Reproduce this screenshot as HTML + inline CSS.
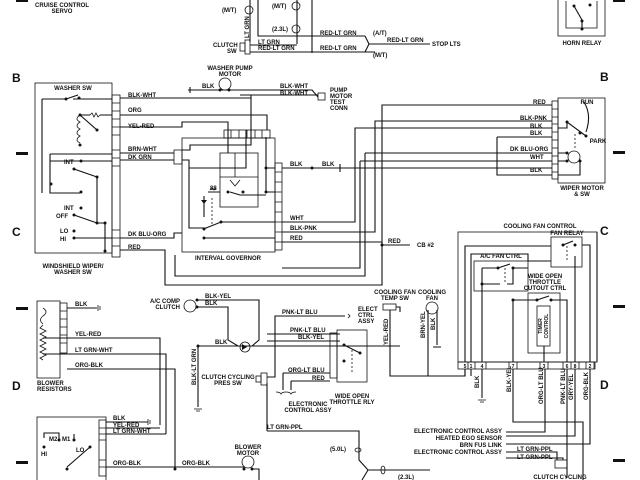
<!DOCTYPE html>
<html><head><style>
html,body{margin:0;padding:0;background:#fff}
svg{display:block}
text{font-family:"Liberation Sans",sans-serif;font-weight:bold;font-size:6px;fill:#111}
.l{stroke:#111;stroke-width:1.1;fill:none}
.t{stroke:#111;stroke-width:0.8;fill:none}
.d{fill:#111}
.m{text-anchor:middle}
.big{font-size:12px}
</style></head><body>
<svg width="640" height="480" viewBox="0 0 640 480" xmlns="http://www.w3.org/2000/svg">
<rect width="640" height="480" fill="#fff"/>
<!-- grid markers -->
<text x="12" y="82" class="big">B</text><text x="600" y="81" class="big">B</text>
<text x="12" y="236" class="big">C</text><text x="600" y="235" class="big">C</text>
<text x="12" y="390" class="big">D</text><text x="600" y="389" class="big">D</text>
<rect x="16" y="152" width="12" height="3" class="d"/><rect x="613" y="151" width="12" height="3" class="d"/>
<rect x="16" y="307" width="12" height="3" class="d"/><rect x="613" y="305" width="12" height="3" class="d"/>
<rect x="16" y="461" width="12" height="3" class="d"/><rect x="613" y="459" width="12" height="3" class="d"/>
<rect x="16" y="0" width="12" height="2" class="d"/><rect x="613" y="0" width="12" height="2" class="d"/>

<!-- top area -->
<text x="62" y="7" class="m">CRUISE CONTROL</text><text x="62" y="13" class="m">SERVO</text>
<text x="222" y="12">(M/T)</text><circle cx="249" cy="10" r="4" class="t"/>
<text x="272" y="8">(M/T)</text><circle cx="296" cy="6" r="4" class="t"/>
<text x="272" y="31">(2.3L)</text><circle cx="296" cy="29" r="4" class="t"/>
<path class="l" d="M250 0V42M258 0V36H312M297 0V44M312 0V53M250 45H297M250 52H375"/>
<rect x="245" y="40" width="5" height="14" class="t"/><rect x="240" y="43" width="5" height="8" class="t"/>
<text x="213" y="47">CLUTCH</text><text x="227" y="53">SW</text>
<text x="258" y="44">LT GRN</text><text x="258" y="50">RED-LT GRN</text>
<text transform="translate(249,38) rotate(-90)">LT GRN</text>
<text x="320" y="35">RED-LT GRN</text><text x="320" y="50">RED-LT GRN</text>
<path class="l" d="M312 36H365M320 52H365M365 36L369 44L365 52M369 44H430"/>
<text x="373" y="35">(A/T)</text><text x="373" y="57">(M/T)</text>
<text x="387" y="42">RED-LT GRN</text><text x="432" y="46">STOP LTS</text>
<rect x="558" y="-2" width="47" height="38" class="t"/>
<path class="t" d="M566 1V28H597V1"/><circle cx="574" cy="6" r="1.5" class="d"/><circle cx="590" cy="5" r="1.5" class="d"/>
<path class="l" d="M574 6L582 20V28"/><circle cx="582" cy="21" r="1.5" class="d"/><circle cx="582" cy="29" r="1.5" class="d"/>
<text x="582" y="45" class="m">HORN RELAY</text>

<!-- wiper/washer switch -->
<rect x="35" y="83" width="77" height="170" class="t"/>
<text x="73" y="90" class="m">WASHER SW</text>
<text x="73" y="268" class="m">WINDSHIELD WIPER/</text><text x="73" y="274" class="m">WASHER SW</text>
<rect x="112" y="95" width="8" height="162" class="t"/>
<path class="t" d="M112 103H120M112 111H120M112 119H120M112 127H120M112 135H120M112 150H120M112 158H120M112 166H120M112 230H120M112 238H120M112 246H120"/>
<path class="l" d="M42 99V193M42 99H66M73 99H112M80 115L97 130M80 115H90M100 115H112M50 154V193H80M50 154H112M50 161H112"/>
<circle cx="66" cy="99" r="1.5" class="d"/><circle cx="79" cy="98" r="1.5" class="d"/><path class="l" d="M66 99L78 95"/>
<path class="t" d="M90 115l2-2 2 4 2-4 2 4 2-2"/>
<circle cx="80" cy="115" r="1.5" class="d"/><circle cx="97" cy="130" r="1.5" class="d"/><circle cx="80" cy="145" r="1.5" class="d"/>
<path class="t" d="M80 115q-6 4 0 7q-6 4 0 7q-6 4 0 7q-6 4 0 7"/>
<text x="64" y="164">INT</text><circle cx="81" cy="161" r="1.5" class="d"/>
<circle cx="74" cy="169" r="1.5" class="d"/><path class="l" d="M74 169L97 177"/><circle cx="97" cy="177" r="1.5" class="d"/>
<circle cx="51" cy="184" r="1.5" class="d"/><circle cx="81" cy="192" r="1.5" class="d"/>
<text x="64" y="210">INT</text><circle cx="81" cy="208" r="1.5" class="d"/>
<text x="56" y="218">OFF</text><circle cx="74" cy="215" r="1.5" class="d"/><path class="l" d="M74 215L97 223H105"/><circle cx="97" cy="223" r="1.5" class="d"/><circle cx="105" cy="223" r="1.5" class="d"/>
<text x="60" y="233">LO</text><circle cx="74" cy="231" r="1.5" class="d"/>
<text x="60" y="241">HI</text><circle cx="74" cy="238" r="1.5" class="d"/>
<path class="l" d="M74 238H112M105 223V252M97 177V223"/>
<circle cx="105" cy="251" r="1.5" class="d"/>

<!-- washer pump -->
<text x="230" y="70" class="m">WASHER PUMP</text><text x="230" y="76" class="m">MOTOR</text>
<circle cx="225" cy="84" r="6" class="t"/>
<path class="l" d="M188 90H229M190 87V93"/><circle cx="220" cy="90" r="1.5" class="d"/><circle cx="229" cy="90" r="1.5" class="d"/>
<text x="202" y="88">BLK</text>
<path class="l" d="M229 90H312L318 97M240 95H318M251 130V95"/>
<rect x="318" y="93" width="7" height="7" class="t"/>
<text x="280" y="88">BLK-WHT</text><text x="280" y="95">BLK-WHT</text>
<text x="330" y="92">PUMP</text><text x="330" y="98">MOTOR</text><text x="330" y="104">TEST</text><text x="330" y="110">CONN</text>
<path class="l" d="M120 98H251M120 115H267V130M120 127H182V122H228V130M120 153H174M120 160H174"/>
<text x="128" y="97">BLK-WHT</text><text x="128" y="112">ORG</text><text x="128" y="128">YEL-RED</text>
<text x="128" y="151">BRN-WHT</text><text x="128" y="159">DK GRN</text>

<!-- interval governor -->
<rect x="182" y="138" width="93" height="114" class="t"/>
<rect x="224" y="130" width="46" height="8" class="t"/>
<path class="t" d="M231 130V138M239 130V138M247 130V138M255 130V138M262 130V138"/>
<rect x="174" y="150" width="8" height="14" class="t"/>
<rect x="275" y="163" width="7" height="87" class="t"/>
<path class="t" d="M275 172H282M275 182H282M275 192H282M275 202H282M275 212H282M275 222H282M275 232H282M275 242H282"/>
<rect x="220" y="153" width="38" height="54" class="t"/>
<path class="t" d="M235 153V177M220 177H258M230 180L235 186L240 180"/>
<path class="l" d="M182 150H190V145H251V130M182 160H189V168H246V130M228 130V153M266 137V168M189 168V228H207"/>
<circle cx="228" cy="192" r="1.5" class="d"/><circle cx="243" cy="192" r="1.5" class="d"/><path class="l" d="M230 192L240 195H266"/>
<circle cx="266" cy="168" r="1.5" class="d"/><circle cx="266" cy="192" r="1.5" class="d"/>
<path class="l" d="M266 168H275M266 192H275M266 168V192M208 192H220"/>
<path class="t" d="M210 190l2-2 2 2 2-2" /><text x="210" y="190">88</text>
<path class="l" d="M204 196V217"/><path class="d" d="M201 200h6l-3 4z"/>
<path class="t" d="M212 198V225" stroke-dasharray="2 2"/>
<circle cx="204" cy="229" r="1.5" class="d"/><circle cx="221" cy="222" r="1.5" class="d"/><path class="l" d="M206 228L221 222H275M204 238H275"/>
<circle cx="204" cy="238" r="1.5" class="d"/>
<text x="228" y="260" class="m">INTERVAL GOVERNOR</text>

<!-- wires to wiper motor -->
<path class="l" d="M282 168H552M282 222H355V128H552M282 232H375V121H552M282 242H382V105H552M120 238H174V233H182M120 250H165V285H382V242M365 153H552M360 161H552M365 153V276H175V255M360 161V268H282M497 137H552M497 137V175H552"/>
<circle cx="312" cy="168" r="1.5" class="d"/><path class="l" d="M340 164V172"/>
<text x="290" y="166">BLK</text><text x="322" y="166">BLK</text>
<text x="290" y="220">WHT</text><text x="290" y="230">BLK-PNK</text><text x="290" y="240">RED</text>
<text x="128" y="236">DK BLU-ORG</text><text x="128" y="249">RED</text>

<!-- wiper motor -->
<rect x="558" y="98" width="47" height="85" class="t"/>
<rect x="552" y="101" width="6" height="78" class="t"/>
<path class="t" d="M552 109H558M552 117H558M552 124H558M552 132H558M552 140H558M552 148H558M552 156H558M552 164H558M552 172H558"/>
<text x="533" y="104">RED</text><text x="520" y="120">BLK-PNK</text><text x="530" y="128">BLK</text><text x="530" y="135">BLK</text>
<text x="510" y="151">DK BLU-ORG</text><text x="530" y="159">WHT</text><text x="530" y="172">BLK</text>
<path class="l" d="M584 102Q592 115 586 132"/>
<text x="587" y="104" class="m">RUN</text><text x="598" y="143" class="m">PARK</text>
<circle cx="567" cy="122" r="1.5" class="d"/><circle cx="580" cy="133" r="1.5" class="d"/><circle cx="586" cy="136" r="1.5" class="d"/>
<path class="l" d="M567 122L586 136M558 128H567V122"/>
<path class="t" d="M575 134V150" stroke-dasharray="2 2"/>
<circle cx="574" cy="157" r="6" class="t"/>
<circle cx="567" cy="153" r="1.5" class="d"/><circle cx="567" cy="161" r="1.5" class="d"/><circle cx="580" cy="161" r="1.5" class="d"/>
<path class="l" d="M558 153H567M558 161H567M580 161V175H558"/>
<text x="582" y="190" class="m">WIPER MOTOR</text><text x="582" y="196" class="m">&amp; SW</text>

<!-- CB#2 -->
<path class="l" d="M382 245H410"/><circle cx="382" cy="245" r="1.5" class="d"/><text x="388" y="243">RED</text>
<text x="417" y="247">CB #2</text>

<!-- cooling fan control -->
<text x="540" y="228" class="m">COOLING FAN CONTROL</text>
<rect x="458" y="232" width="139" height="130" class="t"/>
<text x="567" y="235" class="m">FAN RELAY</text>
<rect x="551" y="237" width="31" height="30" class="t"/>
<circle cx="563" cy="245" r="1.5" class="d"/><circle cx="575" cy="245" r="1.5" class="d"/><path class="l" d="M563 245L573 241"/>
<path class="t" d="M567 246V261" stroke-dasharray="2 2"/>
<path class="l" d="M465 362V246H551M471 362V254H528V261H551M590 362V245H582M597 362V232"/>
<rect x="474" y="261" width="54" height="30" class="t"/>
<text x="501" y="258" class="m">A/C FAN CTRL</text>
<circle cx="498" cy="268" r="1.5" class="d"/><circle cx="513" cy="268" r="1.5" class="d"/><path class="l" d="M498 268L510 264M482 268H498M513 268H528M482 268V362"/>
<path class="t" d="M505 268V283" stroke-dasharray="2 2"/>
<circle cx="482" cy="284" r="1.5" class="d"/><path class="l" d="M482 284H500M507 284H513V268"/>
<text x="545" y="278" class="m">WIDE OPEN</text><text x="545" y="284" class="m">THROTTLE</text><text x="545" y="290" class="m">CUTOUT CTRL</text>
<rect x="528" y="293" width="32" height="60" class="t"/>
<circle cx="513" cy="300" r="1.5" class="d"/><circle cx="537" cy="300" r="1.5" class="d"/><circle cx="551" cy="300" r="1.5" class="d"/>
<path class="l" d="M513 300H537L549 296M551 300H567V362M513 300V362"/>
<rect x="537" y="306" width="13" height="40" class="t"/>
<text transform="translate(542,326) rotate(-90)" class="m" style="font-size:5px">TIMER</text>
<text transform="translate(548,326) rotate(-90)" class="m" style="font-size:5px">CONTROL</text>
<path class="l" d="M544 346V362M575 362V256"/>
<rect x="458" y="362" width="137" height="7" class="t"/>
<text x="465" y="368" class="m" style="font-size:5px">5</text><text x="471" y="368" class="m" style="font-size:5px">1</text><text x="482" y="368" class="m" style="font-size:5px">4</text><text x="513" y="368" class="m" style="font-size:5px">7</text><text x="544" y="368" class="m" style="font-size:5px">3</text><text x="567" y="368" class="m" style="font-size:5px">6</text><text x="575" y="368" class="m" style="font-size:5px">8</text><text x="590" y="368" class="m" style="font-size:5px">2</text>
<path class="t" d="M468 362V369M475 362V369M486 362V369M509 362V369M517 362V369M540 362V369M548 362V369M563 362V369M571 362V369M579 362V369M586 362V369M594 362V369"/>
<path class="l" d="M482 369V398M513 369V422H583V480M545 369V432H506M567 369V478M575 369V436H506M590 369V444H506M471 369V376M465 369V376"/>
<path class="t" d="M478 400H486M480 402H484"/>
<text transform="translate(479,388) rotate(-90)">BLK</text>
<text transform="translate(511,392) rotate(-90)">BLK-YEL</text>
<text transform="translate(543,404) rotate(-90)">ORG-LT BLU</text>
<text transform="translate(565,404) rotate(-90)">PNK-LT BLU</text>
<text transform="translate(573,400) rotate(-90)">GRY-YEL</text>
<text transform="translate(588,400) rotate(-90)">ORG-BLK</text>
<text x="502" y="433" style="text-anchor:end">ELECTRONIC CONTROL ASSY</text>
<text x="502" y="440" style="text-anchor:end">HEATED EGO SENSOR</text>
<text x="502" y="447" style="text-anchor:end">BRN FUS LINK</text>
<text x="502" y="454" style="text-anchor:end">ELECTRONIC CONTROL ASSY</text>
<path class="l" d="M506 452H557V460M506 458H563V460"/>
<text x="517" y="451">LT GRN-PPL</text><text x="517" y="459">LT GRN-PPL</text>
<rect x="555" y="460" width="12" height="8" class="t"/>
<text x="560" y="479" class="m">CLUTCH CYCLING</text>

<!-- cooling fan temp sw / fan -->
<text x="395" y="294" class="m">COOLING FAN</text><text x="395" y="300" class="m">TEMP SW</text>
<rect x="383" y="304" width="13" height="6" class="t"/><path class="l" d="M390 310V376H465V369M396 307H400V312"/>
<text transform="translate(388,345) rotate(-90)">YEL-RED</text>
<text x="432" y="294" class="m">COOLING</text><text x="432" y="300" class="m">FAN</text>
<circle cx="432" cy="308" r="6" class="t"/>
<path class="l" d="M428 310V376M437 310V345M433 347H441"/>
<text transform="translate(425,338) rotate(-90)">BRN-YEL</text>
<text transform="translate(435,330) rotate(-90)">BLK</text>

<!-- A/C comp clutch -->
<text x="180" y="303" style="text-anchor:end">A/C COMP</text><text x="180" y="309" style="text-anchor:end">CLUTCH</text>
<circle cx="190" cy="306" r="6" class="t"/>
<circle cx="197" cy="300" r="1.5" class="d"/><circle cx="197" cy="307" r="1.5" class="d"/>
<path class="l" d="M197 300H259V340L252 346M197 307H228V340L238 346M198 346H400M198 346V407"/>
<text x="205" y="298">BLK-YEL</text><text x="205" y="305">BLK</text><text x="215" y="344">BLK</text>
<circle cx="245" cy="347" r="5" class="t"/><path class="d" d="M242 344v6l5-3z"/>
<circle cx="198" cy="346" r="1.5" class="d"/>
<path class="t" d="M194 409H202M196 411H200"/>
<text transform="translate(196,385) rotate(-90)">BLK-LT GRN</text>
<text x="228" y="379" class="m">CLUTCH CYCLING</text><text x="228" y="385" class="m">PRES SW</text>
<rect x="261" y="373" width="6" height="12" class="t"/><rect x="256" y="376" width="5" height="6" class="t"/>
<path class="l" d="M267 377H275V316H345M267 383V431M267 334H340M267 341H340"/>
<text x="282" y="314">PNK-LT BLU</text><text x="290" y="332">PNK-LT BLU</text><text x="298" y="339">BLK-YEL</text>
<text x="358" y="311">ELECT</text><text x="358" y="317">CTRL</text><text x="358" y="323">ASSY</text>
<path class="t" d="M348 314l2 2-2 2"/>
<rect x="337" y="330" width="30" height="52" class="t"/>
<rect x="330" y="333" width="7" height="45" class="t"/>
<circle cx="344" cy="345" r="1.5" class="d"/><circle cx="360" cy="353" r="1.5" class="d"/><path class="l" d="M344 345L360 353"/>
<circle cx="344" cy="361" r="1.5" class="d"/><path class="t" d="M352 350V373" stroke-dasharray="2 2"/>
<text x="352" y="398" class="m">WIDE OPEN</text><text x="352" y="404" class="m">THROTTLE RLY</text>
<path class="l" d="M283 373H330M291 381H330M283 373V390M291 381V390"/>
<text x="288" y="372">ORG-LT BLU</text><text x="312" y="380">RED</text>
<path class="t" d="M276 392q4 0 5 2 1-2 5-2q4 0 5 2 1-2 5-2"/>
<text x="308" y="406" class="m">ELECTRONIC</text><text x="308" y="412" class="m">CONTROL ASSY</text>

<!-- blower resistors -->
<rect x="37" y="301" width="23" height="77" class="t"/>
<rect x="60" y="303" width="7" height="50" class="t"/>
<path class="t" d="M60 311H67M60 319H67M60 327H67M60 335H67M60 343H67"/>
<path class="t" d="M43 308q6 4 0 8q-5 4 0 8M43 325l-3 3 6 3-6 3 6 3-6 3 6 3-6 3 6 3-6 3 6 3-6 3 3 2"/>
<path class="l" d="M43 338H67M43 354H67M67 308H97M67 338H160V425M67 354H166V434M67 369H175V469"/>
<path class="t" d="M98 305V311M100 306V310"/>
<text x="75" y="306">BLK</text><text x="75" y="336">YEL-RED</text><text x="75" y="352">LT GRN-WHT</text><text x="75" y="367">ORG-BLK</text>
<text x="37" y="385">BLOWER</text><text x="37" y="391">RESISTORS</text>

<!-- blower switch -->
<rect x="37" y="417" width="69" height="65" class="t"/>
<rect x="99" y="420" width="7" height="56" class="t"/>
<path class="t" d="M99 428H106M99 434H106M99 440H106M99 460H106M99 467H106"/>
<path class="l" d="M106 422H148M106 428H160M106 434H166M106 467H245M44 438V433H59V440M74 440V434M67 467L90 447"/>
<path class="t" d="M148 419V425M150 420V424"/>
<text x="113" y="420">BLK</text><text x="113" y="427">YEL-RED</text><text x="113" y="433">LT GRN-WHT</text><text x="113" y="465">ORG-BLK</text><text x="182" y="465">ORG-BLK</text>
<circle cx="44" cy="447" r="1.5" class="d"/><circle cx="59" cy="440" r="1.5" class="d"/><circle cx="74" cy="440" r="1.5" class="d"/><circle cx="90" cy="447" r="1.5" class="d"/><circle cx="67" cy="469" r="1.5" class="d"/>
<text x="49" y="441">M2</text><text x="62" y="441">M1</text><text x="76" y="452">LO</text><text x="41" y="456">HI</text>
<circle cx="175" cy="469" r="1.5" class="d"/>
<text x="248" y="449" class="m">BLOWER</text><text x="248" y="455" class="m">MOTOR</text>
<circle cx="248" cy="462" r="6" class="t"/>
<circle cx="244" cy="469" r="1.5" class="d"/><circle cx="252" cy="469" r="1.5" class="d"/><path class="l" d="M252 469H259V480"/>

<!-- bottom LT GRN-PPL -->
<path class="l" d="M267 431H359V460L368 470H430M368 470L362 480"/>
<text x="267" y="429">LT GRN-PPL</text>
<text x="330" y="451">(5.0L)</text><ellipse cx="358" cy="450" rx="3" ry="2" class="t"/>
<ellipse cx="383" cy="470" rx="2" ry="4" class="t"/><text x="398" y="479">(2.3L)</text>
</svg>
</body></html>
